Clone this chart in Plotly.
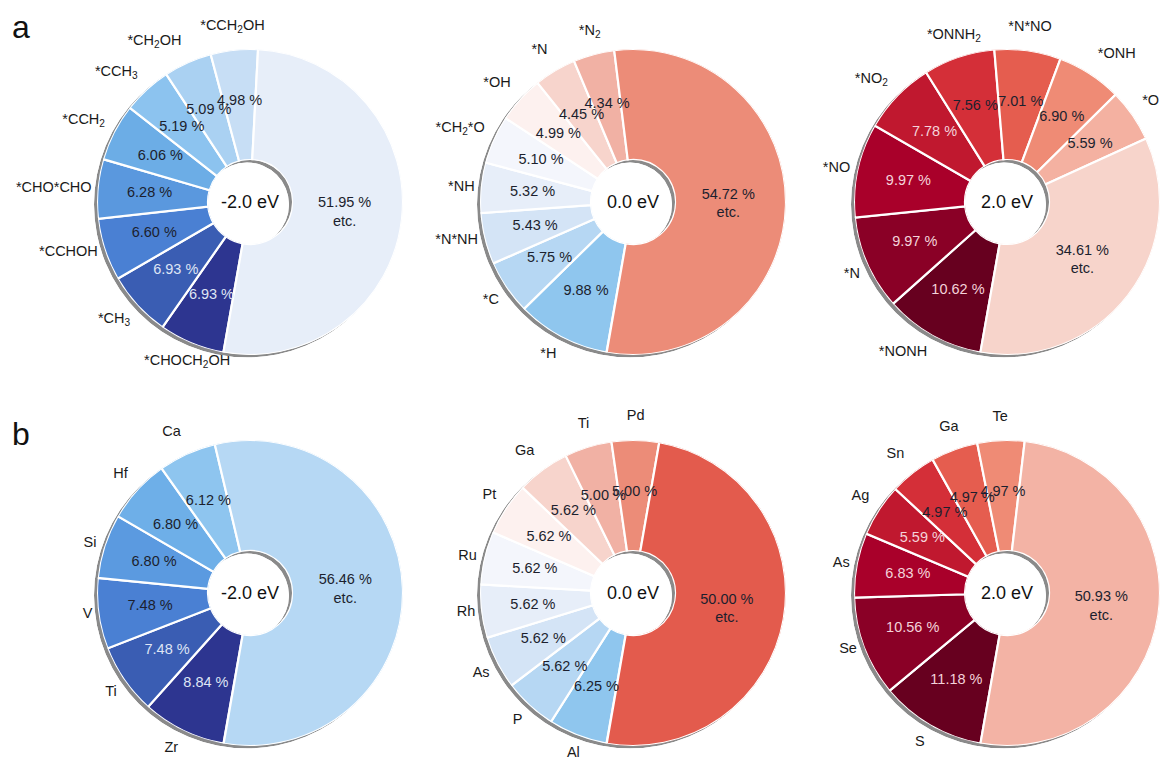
import math
import plotly.graph_objects as go

W, H = 1160, 760

# ---------------- data ----------------
# (a) adsorbates, slices listed clockwise starting just past 6 o'clock
a1_labels = ["*CHOCH<sub>2</sub>OH", "*CH<sub>3</sub>", "*CCHOH", "*CHO*CHO",
             "*CCH<sub>2</sub>", "*CCH<sub>3</sub>", "*CH<sub>2</sub>OH", "*CCH<sub>2</sub>OH"]
a1_values = [6.93, 6.93, 6.60, 6.28, 6.06, 5.19, 5.09, 4.98]
a1_etc = 51.95

a2_labels = ["*H", "*C", "*N*NH", "*NH", "*CH<sub>2</sub>*O", "*OH", "*N", "*N<sub>2</sub>"]
a2_values = [9.88, 5.75, 5.43, 5.32, 5.10, 4.99, 4.45, 4.34]
a2_etc = 54.72

a3_labels = ["*NONH", "*N", "*NO", "*NO<sub>2</sub>", "*ONNH<sub>2</sub>", "*N*NO", "*ONH", "*O"]
a3_values = [10.62, 9.97, 9.97, 7.78, 7.56, 7.01, 6.90, 5.59]
a3_etc = 34.61

# (b) elements
b1_labels = ["Zr", "Ti", "V", "Si", "Hf", "Ca"]
b1_values = [8.84, 7.48, 7.48, 6.80, 6.80, 6.12]
b1_etc = 56.46

b2_labels = ["Al", "P", "As", "Rh", "Ru", "Pt", "Ga", "Ti", "Pd"]
b2_values = [6.25, 5.62, 5.62, 5.62, 5.62, 5.62, 5.62, 5.00, 5.00]
b2_etc = 50.00

b3_labels = ["S", "Se", "As", "Ag", "Sn", "Ga", "Te"]
b3_values = [11.18, 10.56, 6.83, 5.59, 4.97, 4.97, 4.97]
b3_etc = 50.93

energies = ["-2.0 eV", "0.0 eV", "2.0 eV"]

# ---------------- styles ----------------
BLUE_DARK = ["#2d3590", "#3a5db3", "#4a80d3", "#5a98de", "#6cade6", "#8cc3ef", "#aad1f2", "#c7def5"]
REDS_DARK = ["#67001f", "#8a0026", "#a9002a", "#c0182f", "#d42f38", "#e55d4f", "#ef8b75", "#f4b1a1"]
DIVERGE = ["#8fc6ee", "#b6d7f3", "#d4e4f6", "#e7eef9", "#f4f6fc", "#fdf1ef", "#f7d4cc", "#f1b1a4", "#ec8c78"]

LIGHT_B = "#dfe5f5"
LIGHT_R = "#f4d3da"
DARK_T = "#1c1f2e"

TOP, BOTTOM = 202, 593
panels = [
    dict(labels=a1_labels, values=a1_values, etc=a1_etc, energy=energies[0],
         colors=BLUE_DARK[:8], etc_color="#e7eef9", n_light=2, light=LIGHT_B, c=(250, TOP)),
    dict(labels=a2_labels, values=a2_values, etc=a2_etc, energy=energies[1],
         colors=DIVERGE[:8], etc_color="#ec8c78", n_light=0, light=LIGHT_B, c=(633, TOP)),
    dict(labels=a3_labels, values=a3_values, etc=a3_etc, energy=energies[2],
         colors=REDS_DARK[:8], etc_color="#f7d4cb", n_light=4, light=LIGHT_R, c=(1007, TOP)),
    dict(labels=b1_labels, values=b1_values, etc=b1_etc, energy=energies[0],
         colors=["#2d3590", "#3a5db3", "#4a80d3", "#5b9ae0", "#6eafe8", "#8ec5ef"],
         etc_color="#b6d8f4", n_light=2, light=LIGHT_B, c=(250, BOTTOM)),
    dict(labels=b2_labels, values=b2_values, etc=b2_etc, energy=energies[1],
         colors=DIVERGE, etc_color="#e35b4d", n_light=0, light=LIGHT_B, c=(633, BOTTOM)),
    dict(labels=b3_labels, values=b3_values, etc=b3_etc, energy=energies[2],
         colors=REDS_DARK[:7], etc_color="#f3b3a5", n_light=4, light=LIGHT_R, c=(1007, BOTTOM)),
]

R = 153          # outer radius, px
R_IN = 42        # hole radius, px
HOLE = R_IN / R
START = 190      # first slice starts this many degrees clockwise from 12 o'clock
SHADOW_DX, SHADOW_DY = -3, 2.5
FONT = "Liberation Sans, Arial, sans-serif"


def label_gap(ang):
    # a little more room above / below the ring than at its sides
    c = math.cos(math.radians(ang))
    return 5 + (11 if c > 0 else 7) * abs(c)


def domain(cx, cy, r=R):
    return dict(x=[max(0, (cx - r) / W), min(1, (cx + r) / W)],
                y=[max(0, 1 - (cy + r) / H), min(1, 1 - (cy - r) / H)])


def outside_position(ang):
    a = ang % 360
    if a < 22.5 or a >= 337.5:
        return "top center"
    if a < 67.5:
        return "top right"
    if a < 112.5:
        return "middle right"
    if a < 157.5:
        return "bottom right"
    if a < 202.5:
        return "bottom center"
    if a < 247.5:
        return "bottom left"
    if a < 292.5:
        return "middle left"
    return "top left"


def hidden_polar(dom):
    return dict(
        domain=dom, hole=HOLE, bgcolor="rgba(0,0,0,0)",
        radialaxis=dict(range=[0, 1], visible=False),
        angularaxis=dict(visible=False, direction="clockwise", rotation=90 - START),
    )


fig = go.Figure()
layout_polars = {}
n = len(panels)
annotations = []

# page-sized pixel axes for the category names around each ring
lab_x, lab_y, lab_t, lab_p = [], [], [], []

for i, p in enumerate(panels):
    cx, cy = p["c"]
    # drop shadow ring (drawn first, below)
    sid = f"polar{i + 1}" if i else "polar"
    layout_polars[sid] = hidden_polar(domain(cx + SHADOW_DX, cy + SHADOW_DY))
    fig.add_trace(go.Barpolar(
        r=[1], theta=[180], width=[360], base=0, subplot=sid,
        marker=dict(color="#8a8a8a", line=dict(width=0)),
        hoverinfo="skip", showlegend=False,
    ))

for i, p in enumerate(panels):
    cx, cy = p["c"]
    sid = f"polar{n + i + 1}"
    layout_polars[sid] = hidden_polar(domain(cx, cy))

    vals = list(p["values"]) + [p["etc"]]
    widths = [v * 3.6 for v in vals]
    mids, acc = [], 0.0
    for w in widths:
        mids.append(acc + w / 2)
        acc += w
    colors = list(p["colors"]) + [p["etc_color"]]

    fig.add_trace(go.Barpolar(
        r=[1] * len(vals), theta=mids, width=widths, base=0, subplot=sid,
        marker=dict(color=colors, line=dict(color="white", width=2.2)),
        hoverinfo="skip", showlegend=False,
    ))

    texts = [f"{v:.2f} %" for v in p["values"]] + [f"{p['etc']:.2f} %<br>etc."]
    tcolors = [p["light"] if k < p["n_light"] else DARK_T for k in range(len(p["values"]))] + [DARK_T]
    fig.add_trace(go.Scatterpolar(
        r=[0.53] * len(p["values"]) + [0.48], theta=mids, mode="text", text=texts, subplot=sid,
        textposition="middle center", cliponaxis=False,
        textfont=dict(family=FONT, size=14.5, color=tcolors),
        hoverinfo="skip", showlegend=False,
    ))

    for t, lab in zip(mids[:-1], p["labels"]):
        ang = START + t
        rad = math.radians(ang)
        rr = R + label_gap(ang)
        lab_x.append(cx + rr * math.sin(rad))
        lab_y.append(cy - rr * math.cos(rad))
        lab_t.append(lab)
        lab_p.append(outside_position(ang))

    annotations.append(dict(
        x=cx / W, y=1 - cy / H, xref="paper", yref="paper", text=p["energy"],
        showarrow=False, xanchor="center", yanchor="middle",
        font=dict(family=FONT, size=18, color="#111111"),
    ))

fig.add_trace(go.Scatter(
    x=lab_x, y=lab_y, mode="text", text=lab_t, textposition=lab_p,
    textfont=dict(family=FONT, size=14.5, color="#1a1a1a"),
    cliponaxis=False, hoverinfo="skip", showlegend=False,
))

annotations.append(dict(x=10 / W, y=1 - 27 / H, xref="paper", yref="paper", text="a",
                        showarrow=False, xanchor="left", yanchor="middle",
                        font=dict(family=FONT, size=32, color="#111111")))
annotations.append(dict(x=10 / W, y=1 - 434 / H, xref="paper", yref="paper", text="b",
                        showarrow=False, xanchor="left", yanchor="middle",
                        font=dict(family=FONT, size=32, color="#111111")))

fig.update_layout(
    width=W, height=H, margin=dict(l=0, r=0, t=0, b=0),
    paper_bgcolor="white", plot_bgcolor="rgba(0,0,0,0)",
    xaxis=dict(range=[0, W], visible=False, domain=[0, 1], fixedrange=True),
    yaxis=dict(range=[H, 0], visible=False, domain=[0, 1], fixedrange=True),
    annotations=annotations, showlegend=False,
    **layout_polars,
)

fig.write_html("out.html")
